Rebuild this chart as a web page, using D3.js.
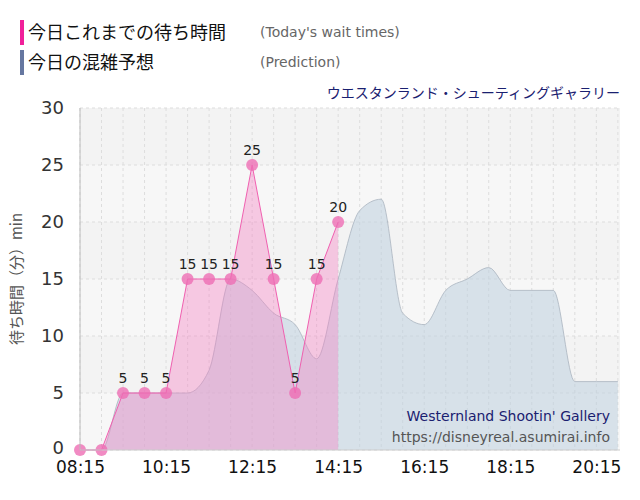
<!DOCTYPE html>
<html><head><meta charset="utf-8">
<script src="https://cdn.jsdelivr.net/npm/d3@7"></script>
<style>body{margin:0;background:#fff}</style></head>
<body><svg id="c" width="640" height="500"></svg>
<script>
// actual wait times (30-min steps from 08:15)
const actualTimes = ["08:15","08:45","09:15","09:45","10:15","10:45","11:15","11:45","12:15","12:45","13:15","13:45","14:15"];
const actualValues = [0,0,5,5,5,15,15,15,25,15,5,15,20];
// prediction (30-min steps from 08:15)
const predTimes = ["08:15","08:45","09:15","09:45","10:15","10:45","11:15","11:45","12:15","12:45","13:15","13:45","14:15","14:45","15:15","15:45","16:15","16:45","17:15","17:45","18:15","18:45","19:15","19:45","20:15","20:45"];
const predValues = [0,0,5,5,5,5,7,15,14,12,11,8,15,21,22,12,11,14,15,16,14,14,14,6,6,6];
const xTicks = ["08:15","10:15","12:15","14:15","16:15","18:15","20:15"];
const yTicks = [0,5,10,15,20,25,30];

const toMin = s => { const [h,m] = s.split(":").map(Number); return h*60+m; };
const svg = d3.select("#c");
const L = 80, R = 620, T = 108, B = 450;
const x = d3.scaleLinear().domain([toMin("08:15"), toMin("20:48")]).range([L, R]);
const y = d3.scaleLinear().domain([0,30]).range([B, T]);

// background bands
yTicks.slice(0,-1).forEach((v,i) => {
  svg.append("rect").attr("x",L).attr("width",R-L).attr("y",y(v+5)).attr("height",y(v)-y(v+5))
    .attr("fill", i%2 ? "#f3f3f3" : "#f7f7f7");
});
// grid
for (let t = toMin("08:15"); t <= toMin("20:45"); t += 30) {
  svg.append("line").attr("x1",x(t)).attr("x2",x(t)).attr("y1",T).attr("y2",B)
    .attr("stroke","#ddd").attr("stroke-dasharray","3,3");
}
yTicks.forEach(v => svg.append("line").attr("x1",L).attr("x2",R).attr("y1",y(v)).attr("y2",y(v))
  .attr("stroke","#ddd").attr("stroke-dasharray","3,3"));

const pred = predTimes.map((t,i) => ({t:toMin(t), v:predValues[i]}));
const act = actualTimes.map((t,i) => ({t:toMin(t), v:actualValues[i]}));

svg.append("path").datum(pred)
  .attr("d", d3.area().x(d=>x(d.t)).y0(B).y1(d=>y(d.v)).curve(d3.curveMonotoneX))
  .attr("fill","rgba(190,208,222,0.55)");
svg.append("path").datum(pred)
  .attr("d", d3.line().x(d=>x(d.t)).y(d=>y(d.v)).curve(d3.curveMonotoneX))
  .attr("fill","none").attr("stroke","#aab4bf").attr("stroke-width",0.8);

svg.append("path").datum(act)
  .attr("d", d3.area().x(d=>x(d.t)).y0(B).y1(d=>y(d.v)))
  .attr("fill","rgba(245,130,195,0.4)");
svg.append("path").datum(act)
  .attr("d", d3.line().x(d=>x(d.t)).y(d=>y(d.v)))
  .attr("fill","none").attr("stroke","#f060b0").attr("stroke-width",1);
svg.selectAll(".pt").data(act).enter().append("circle")
  .attr("cx",d=>x(d.t)).attr("cy",d=>y(d.v)).attr("r",6).attr("fill","rgba(238,110,180,0.8)");
svg.selectAll(".lb").data(act.filter(d=>d.v>0)).enter().append("text")
  .attr("x",d=>x(d.t)).attr("y",d=>y(d.v)-10).attr("text-anchor","middle")
  .attr("font-family","DejaVu Sans, sans-serif").attr("font-size",14).attr("fill","#222").text(d=>d.v);

// axes
svg.append("line").attr("x1",L).attr("x2",L).attr("y1",T).attr("y2",B).attr("stroke","#bbb");
svg.append("line").attr("x1",L).attr("x2",R).attr("y1",B).attr("y2",B).attr("stroke","#ccc");
const xa = svg.append("g").attr("transform",`translate(0,${B})`)
  .call(d3.axisBottom(x).tickValues(xTicks.map(toMin)).tickFormat((d,i)=>xTicks[i]).tickSize(0).tickPadding(11));
xa.select(".domain").remove();
xa.selectAll("text").attr("font-family","DejaVu Sans, sans-serif").attr("font-size",17).attr("fill","#111");
const ya = svg.append("g").attr("transform",`translate(${L},0)`)
  .call(d3.axisLeft(y).tickValues(yTicks).tickSize(0).tickPadding(16));
ya.select(".domain").remove();
ya.selectAll("text").attr("font-family","DejaVu Sans, sans-serif").attr("font-size",18).attr("fill","#333")
  .attr("dy",(d)=> d===0 ? "0.2em" : "0.32em");

svg.append("text").attr("transform",`translate(22,${(T+B)/2}) rotate(-90)`).attr("text-anchor","middle")
  .attr("font-family","Noto Sans CJK JP, sans-serif").attr("font-size",15).attr("fill","#555").text("待ち時間（分）min");

// legend
const leg = [["今日これまでの待ち時間","(Today's wait times)","#f0209a",20],["今日の混雑予想","(Prediction)","#6677a0",50]];
leg.forEach(([j,e,c,yy]) => {
  svg.append("rect").attr("x",20).attr("y",yy).attr("width",4).attr("height",25).attr("fill",c);
  svg.append("text").attr("x",28).attr("y",yy+19).attr("font-family","Noto Sans CJK JP, sans-serif").attr("font-size",18).attr("fill","#111").text(j);
  svg.append("text").attr("x",260).attr("y",yy+17).attr("font-family","DejaVu Sans, sans-serif").attr("font-size",14).attr("fill","#666").text(e);
});
svg.append("text").attr("x",620).attr("y",98).attr("text-anchor","end").attr("font-family","Noto Sans CJK JP, sans-serif")
  .attr("font-size",14).attr("fill","#1a2070").text("ウエスタンランド・シューティングギャラリー");
svg.append("text").attr("x",610).attr("y",421).attr("text-anchor","end").attr("font-family","DejaVu Sans, sans-serif")
  .attr("font-size",14).attr("fill","#1a2070").text("Westernland Shootin' Gallery");
svg.append("text").attr("x",610).attr("y",442).attr("text-anchor","end").attr("font-family","DejaVu Sans, sans-serif")
  .attr("font-size",14).attr("fill","#555").text("https://disneyreal.asumirai.info");
</script></body></html>
